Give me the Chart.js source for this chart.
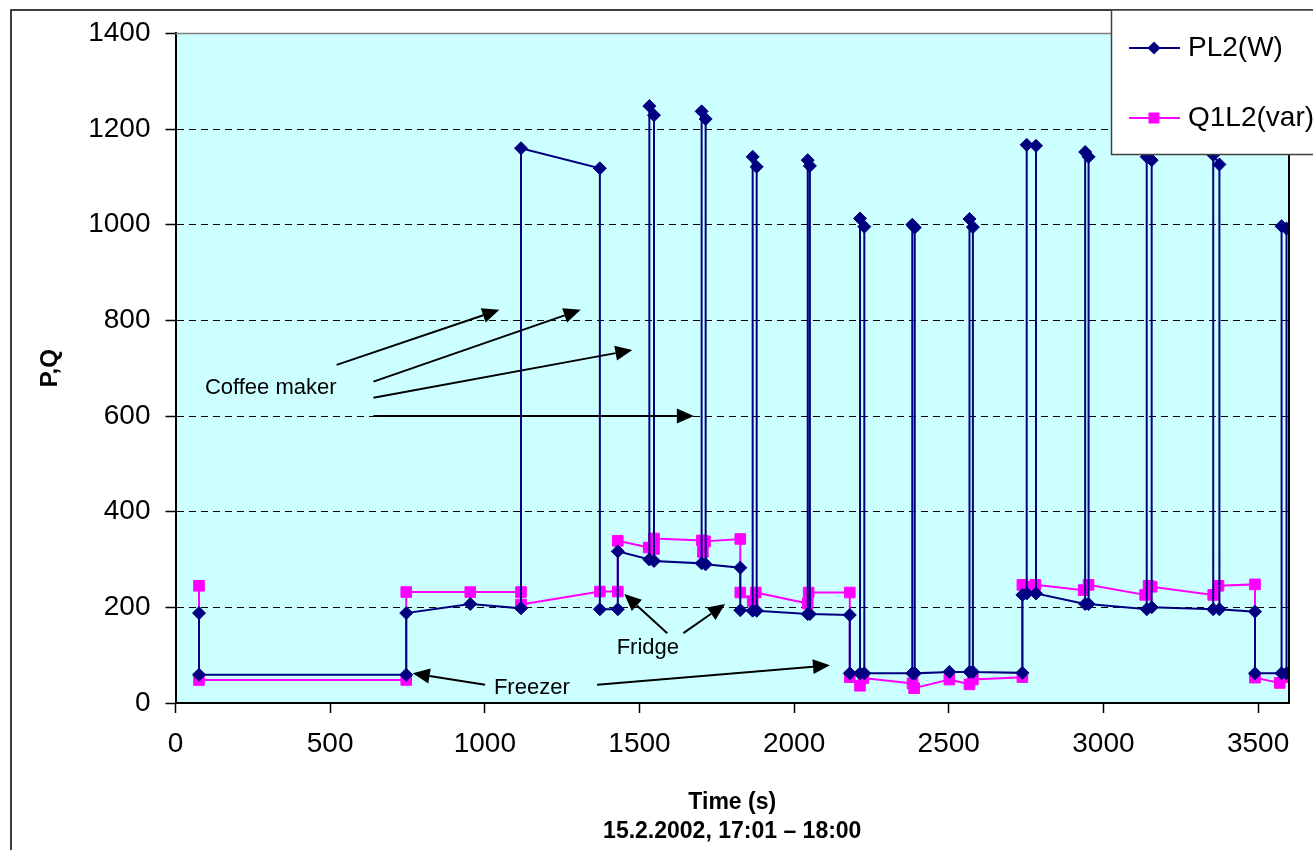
<!DOCTYPE html>
<html><head><meta charset="utf-8">
<script src="https://cdn.jsdelivr.net/npm/chart.js@4"></script>
<style>html,body{margin:0;padding:0;background:#fff;overflow:hidden}canvas{display:block}</style>
</head><body>
<canvas id="c" width="1313" height="850"></canvas>
<script>
// ---- data (time in s, value) ----
const timeP = [76,76,746,746,953,1117,1117,1372,1372,1430,1430,1532,1532,1547,1547,1701,1701,1714,1714,1826,1826,1866,1866,1879,1879,2044,2044,2051,2051,2180,2180,2213,2213,2227,2227,2382,2382,2390,2390,2502,2567,2567,2578,2578,2738,2738,2752,2752,2782,2782,2941,2941,2952,2952,3140,3140,3156,3156,3355,3355,3375,3375,3490,3490,3576,3576,3592,3592];
const valuesP = [188,59,59,188,207,198,1160,1118,196,196,317,300,1248,1229,297,292,1237,1221,290,283,194,193,1142,1121,193,186,1135,1123,186,184,62,62,1013,996,62,62,1000,994,62,65,65,1012,995,65,63,226,229,1167,1165,229,207,1152,1142,207,196,1142,1135,200,196,1146,1126,196,191,62,62,997,992,62];
const timeQ = [76,76,746,746,953,1117,1117,1372,1430,1430,1530,1547,1547,1702,1705,1712,1826,1826,1866,1876,2044,2047,2180,2180,2213,2224,2383,2388,2502,2567,2578,2738,2738,2750,2780,2936,2952,3135,3146,3156,3355,3372,3490,3490,3570,3590];
const valuesQ = [245,48,48,232,232,232,206,233,233,339,325,322,344,340,316,338,343,231,213,231,208,231,231,54,36,52,41,31,49,39,49,54,247,243,247,236,247,226,245,243,226,245,248,53,42,54];
const seriesNames = ['PL2(W)', 'Q1L2(var)'];
const xTicks = [0,500,1000,1500,2000,2500,3000,3500];
const yTicks = [0,200,400,600,800,1000,1200,1400];
const xTitle = ['Time (s)', '15.2.2002, 17:01 \u2013 18:00'];
const yTitle = 'P,Q';

// ---- annotations (in data units) ----
const annotationTexts = [
  {text: 'Coffee maker', t: 95, v: 646, align: 'left'},
  {text: 'Fridge', t: 1527, v: 102, align: 'center'},
  {text: 'Freezer', t: 1152, v: 18, align: 'center'}
];
const annotationArrows = [
  [521,707,1047,822],[640,672,1310,822],[640,638,1477,738],[640,600,1676,600],
  [1590,146,1451,228],[1642,146,1777,207],
  [1001,38,767,62],[1363,38,2116,79]
];

const FONT = "'Liberation Sans', Arial, sans-serif";
const NAVY = '#000080', MAGENTA = '#FF00FF';

function pts(ts, vs){ return ts.map((t,i)=>({x:t, y:vs[i]})); }

const decor = {
  id: 'decor',
  beforeDraw(chart){
    const {ctx, chartArea:a} = chart;
    ctx.save();
    ctx.fillStyle = '#fff';
    ctx.fillRect(0,0,chart.width,chart.height);
    ctx.strokeStyle = '#000'; ctx.lineWidth = 1.5;
    ctx.beginPath(); ctx.moveTo(11, 850); ctx.lineTo(11, 10); ctx.lineTo(1313, 10); ctx.stroke();
    ctx.fillStyle = '#CCFFFF';
    ctx.fillRect(a.left, a.top, a.right-a.left, a.bottom-a.top);
    ctx.restore();
  },
  afterDatasetsDraw(chart){
    const {ctx, chartArea:a, scales:{x, y}} = chart;
    ctx.save();
    ctx.strokeStyle = '#808080'; ctx.lineWidth = 1.5;
    ctx.beginPath(); ctx.moveTo(a.left, a.top); ctx.lineTo(a.right, a.top); ctx.stroke();
    ctx.strokeStyle = '#000'; ctx.lineWidth = 2;
    ctx.beginPath(); ctx.moveTo(a.right, a.top); ctx.lineTo(a.right, a.bottom); ctx.stroke();
    // annotations
    ctx.fillStyle = '#000'; ctx.strokeStyle = '#000';
    ctx.font = '22px ' + FONT; ctx.textBaseline = 'alphabetic';
    annotationTexts.forEach(o=>{
      ctx.textAlign = o.align;
      ctx.fillText(o.text, x.getPixelForValue(o.t), y.getPixelForValue(o.v));
    });
    annotationArrows.forEach(([t1,v1,t2,v2])=>{
      const x1 = x.getPixelForValue(t1), y1 = y.getPixelForValue(v1);
      const x2 = x.getPixelForValue(t2), y2 = y.getPixelForValue(v2);
      const ang = Math.atan2(y2-y1, x2-x1), L = 17, W = 7.5;
      const bx = x2 - L*Math.cos(ang), by = y2 - L*Math.sin(ang);
      ctx.lineWidth = 2;
      ctx.beginPath(); ctx.moveTo(x1,y1); ctx.lineTo(bx,by); ctx.stroke();
      ctx.beginPath(); ctx.moveTo(x2,y2);
      ctx.lineTo(bx + W*Math.sin(ang), by - W*Math.cos(ang));
      ctx.lineTo(bx - W*Math.sin(ang), by + W*Math.cos(ang));
      ctx.closePath(); ctx.fill();
    });
    ctx.restore();
  },
  afterDraw(chart){
    const {ctx} = chart;
    ctx.save();
    ctx.fillStyle = '#fff';
    ctx.fillRect(1111.5, 10, 250, 144.5);
    ctx.strokeStyle = '#404040'; ctx.lineWidth = 1.5;
    ctx.strokeRect(1111.5, 10, 250, 144.5);
    chart.data.datasets.forEach((ds, i)=>{
      const yy = 48 + i*70;
      ctx.strokeStyle = ds.borderColor; ctx.lineWidth = 2;
      ctx.beginPath(); ctx.moveTo(1129, yy); ctx.lineTo(1180, yy); ctx.stroke();
      ctx.fillStyle = ds.pointBackgroundColor;
      ctx.beginPath();
      if (ds.pointStyle === 'rectRot') {
        const r = 6.5;
        ctx.moveTo(1154-r, yy); ctx.lineTo(1154, yy-r); ctx.lineTo(1154+r, yy); ctx.lineTo(1154, yy+r);
        ctx.closePath();
      } else {
        ctx.rect(1154-5.5, yy-5.5, 11, 11);
      }
      ctx.fill();
      ctx.fillStyle = '#000'; ctx.font = '28px ' + FONT;
      ctx.textAlign = 'left'; ctx.textBaseline = 'alphabetic';
      ctx.fillText(ds.label, 1188, yy + 7.5);
    });
    ctx.restore();
  }
};

new Chart(document.getElementById('c'), {
  type: 'line',
  data: {
    datasets: [
      {label: seriesNames[0], data: pts(timeP, valuesP), borderColor: NAVY, backgroundColor: NAVY,
       pointBackgroundColor: NAVY, pointBorderColor: NAVY, pointStyle: 'rectRot', pointRadius: 6.5,
       pointBorderWidth: 1, borderWidth: 2, tension: 0, fill: false},
      {label: seriesNames[1], data: pts(timeQ, valuesQ), borderColor: MAGENTA, backgroundColor: MAGENTA,
       pointBackgroundColor: MAGENTA, pointBorderColor: MAGENTA, pointStyle: 'rect', pointRadius: 7.5,
       pointBorderWidth: 1, borderWidth: 2, tension: 0, fill: false}
    ]
  },
  options: {
    responsive: false, animation: false, devicePixelRatio: 1,
    layout: {padding: {left: 0, top: 33.4, right: 24, bottom: 0}},
    plugins: {legend: {display: false}, tooltip: {enabled: false}},
    scales: {
      x: {
        type: 'linear', min: 0, max: 3600,
        afterBuildTicks: s => { s.ticks = xTicks.map(v => ({value: v})); },
        afterFit: s => { s.height = 147; },
        grid: {drawOnChartArea: false, tickLength: 10, tickColor: '#000', tickWidth: 1.5},
        border: {color: '#000', width: 2},
        ticks: {color: '#000', font: {family: FONT, size: 28}, padding: 14, maxRotation: 0,
                callback: v => String(v)},
        title: {display: true, text: xTitle, color: '#000',
                font: {family: FONT, size: 23, weight: 'bold', lineHeight: 1.25}, padding: {bottom: 4}}
      },
      y: {
        type: 'linear', min: 0, max: 1400,
        afterBuildTicks: s => { s.ticks = yTicks.map(v => ({value: v})); },
        afterFit: s => { s.width = 175.5; },
        grid: {
          color: c => (c.tick && (c.tick.value === 0 || c.tick.value === 1400)) ? 'rgba(0,0,0,0)' : '#000',
          lineWidth: 1, tickLength: 10, tickColor: '#000', tickWidth: 1.5
        },
        border: {color: '#000', width: 2, dash: [7,5]},
        ticks: {color: '#000', font: {family: FONT, size: 28}, padding: 15, callback: v => String(v)},
        title: {display: true, text: yTitle, color: '#000',
                font: {family: FONT, size: 24, weight: 'bold'}, padding: {top: 36}}
      }
    }
  },
  plugins: [decor]
});
</script>
</body></html>
